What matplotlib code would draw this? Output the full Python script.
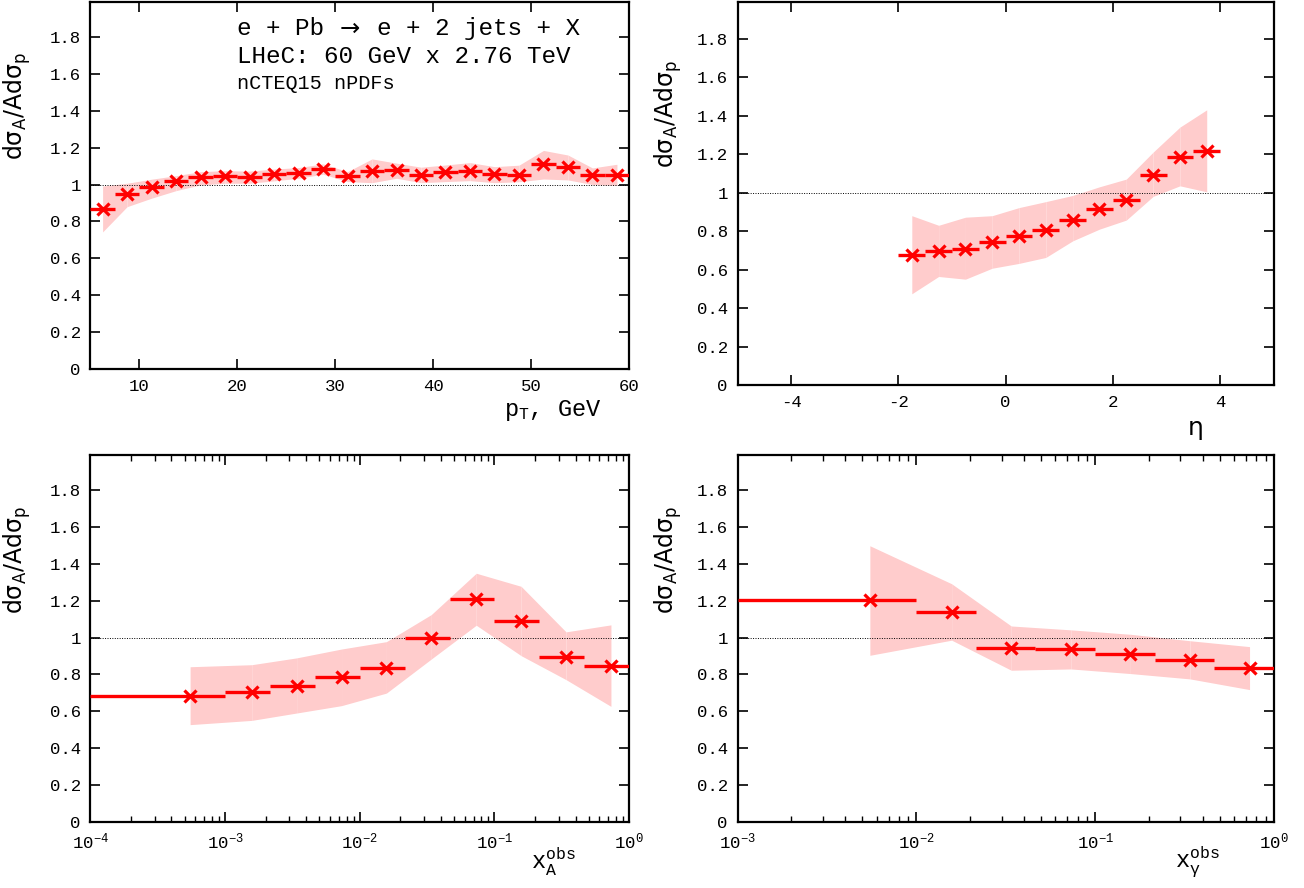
import numpy as np
import matplotlib
matplotlib.use("Agg")
import matplotlib.pyplot as plt
import matplotlib.ticker as ticker

plt.rcParams['font.family'] = ['Liberation Mono', 'DejaVu Sans Mono', 'DejaVu Sans']
plt.rcParams['mathtext.default'] = 'regular'
plt.rcParams['axes.unicode_minus'] = False

# ---- data ----
# pT panel (bins of 2.5 GeV, 5..60)
pt_edges = [5, 7.5, 10, 12.5, 15, 17.5, 20, 22.5, 25, 27.5, 30, 32.5, 35,
            37.5, 40, 42.5, 45, 47.5, 50, 52.5, 55, 57.5, 60]
pt_ratio = [0.866, 0.949, 0.986, 1.018, 1.040, 1.048, 1.040, 1.059, 1.065, 1.084, 1.047,
            1.075, 1.078, 1.052, 1.067, 1.072, 1.057, 1.052, 1.110, 1.096, 1.049, 1.054]
pt_upper = [0.992, 1.007, 1.029, 1.048, 1.070, 1.075, 1.073, 1.084, 1.092, 1.112, 1.070,
            1.139, 1.116, 1.094, 1.106, 1.119, 1.097, 1.105, 1.185, 1.160, 1.090, 1.110]
pt_lower = [0.743, 0.880, 0.926, 0.967, 0.998, 1.007, 1.007, 1.020, 1.034, 1.056, 1.016,
            1.010, 1.034, 1.010, 1.016, 1.021, 1.010, 1.015, 1.030, 1.025, 1.000, 0.995]

# eta panel
eta_edges = [-2, -1.5, -1, -0.5, 0, 0.5, 1, 1.5, 2, 2.5, 3, 3.5, 4]
eta_ratio = [0.678, 0.696, 0.709, 0.742, 0.775, 0.806, 0.860, 0.917, 0.962, 1.093, 1.187, 1.215]
eta_upper = [0.880, 0.830, 0.872, 0.880, 0.922, 0.953, 0.985, 1.030, 1.070, 1.210, 1.340, 1.430]
eta_lower = [0.474, 0.564, 0.550, 0.607, 0.632, 0.663, 0.749, 0.810, 0.857, 0.980, 1.035, 1.004]

# x_A panel
xa_edges = [1e-4, 1e-3, 2.154e-3, 4.642e-3, 1e-2, 2.154e-2, 4.642e-2, 0.1, 0.2154, 0.4642, 1.0]
xa_ratio = [0.685, 0.705, 0.739, 0.786, 0.837, 1.000, 1.207, 1.089, 0.895, 0.848]
xa_upper = [0.842, 0.853, 0.890, 0.938, 0.978, 1.125, 1.349, 1.278, 1.031, 1.069]
xa_lower = [0.528, 0.551, 0.591, 0.631, 0.699, 0.884, 1.067, 0.902, 0.772, 0.627]

# x_gamma panel
xg_edges = [1e-3, 1e-2, 2.154e-2, 4.642e-2, 0.1, 0.2154, 0.4642, 1.0]
xg_ratio = [1.204, 1.139, 0.942, 0.937, 0.911, 0.879, 0.833]
xg_upper = [1.498, 1.292, 1.063, 1.042, 1.018, 0.983, 0.951]
xg_lower = [0.904, 0.986, 0.823, 0.830, 0.805, 0.776, 0.718]

yticks = [0, 0.2, 0.4, 0.6, 0.8, 1, 1.2, 1.4, 1.6, 1.8]

RED = '#ff0000'
BAND = '#ffcccc'


def draw_panel(ax, edges, ratio, upper, lower, logx=False):
    edges = np.array(edges)
    lo, hi = edges[:-1], edges[1:]
    centers = (lo + hi) / 2
    # band drawn segment by segment (leaves faint seams like the original)
    for i in range(len(centers) - 1):
        ax.fill_between(centers[i:i + 2], lower[i:i + 2], upper[i:i + 2],
                        color=BAND, lw=0, zorder=1)
    ax.axhline(1.0, color='black', lw=0.7, ls=(0, (1, 1.5)), zorder=2)
    ax.hlines(ratio, lo, hi, colors=RED, lw=2.4, zorder=3)
    ax.plot(centers, ratio, 'x', color=RED, ms=9, mew=2.3, zorder=4)
    if logx:
        ax.set_xscale('log')
        ax.xaxis.set_major_locator(ticker.LogLocator(base=10))
        ax.xaxis.set_minor_locator(ticker.LogLocator(base=10, subs=np.arange(2, 10)))
        ax.xaxis.set_minor_formatter(ticker.NullFormatter())
    ax.set_xlim(edges[0], edges[-1])
    ax.set_ylim(0, 1.99)
    ax.set_yticks(yticks)
    ax.yaxis.set_major_formatter(ticker.FuncFormatter(lambda v, p: '%g' % v))
    ax.tick_params(which='major', direction='in', top=True, right=True,
                   length=7, width=1.2, labelsize=12.5, pad=7)
    ax.tick_params(which='minor', direction='in', top=True, right=False, left=False,
                   length=4, width=1.0)
    for s in ax.spines.values():
        s.set_linewidth(1.6)
    ax.set_ylabel('dσ$_A$/Adσ$_p$', fontsize=17, family=['DejaVu Sans'])


fig = plt.figure(figsize=(13.04, 8.88), dpi=100)
ax1 = fig.add_axes([0.0693, 0.5845, 0.4132, 0.4133])
ax2 = fig.add_axes([0.5656, 0.5664, 0.4112, 0.4313])
ax3 = fig.add_axes([0.0693, 0.0743, 0.4132, 0.4133])
ax4 = fig.add_axes([0.5656, 0.0743, 0.4112, 0.4133])

draw_panel(ax1, pt_edges, pt_ratio, pt_upper, pt_lower)
ax1.set_xticks([10, 20, 30, 40, 50, 60])
draw_panel(ax2, eta_edges, eta_ratio, eta_upper, eta_lower)
ax2.set_xlim(-5, 5)
ax2.set_xticks([-4, -2, 0, 2, 4])
draw_panel(ax3, xa_edges, xa_ratio, xa_upper, xa_lower, logx=True)
draw_panel(ax4, xg_edges, xg_ratio, xg_upper, xg_lower, logx=True)

ax1.yaxis.set_label_coords(-0.107, 0.717)
ax2.yaxis.set_label_coords(-0.099, 0.707)
ax3.yaxis.set_label_coords(-0.107, 0.714)
ax4.yaxis.set_label_coords(-0.099, 0.714)

# axis titles placed like the gnuplot original
ax1.text(0.859, -0.112, 'p$_T$, GeV', transform=ax1.transAxes, ha='center', va='center', fontsize=17)
ax2.text(0.855, -0.112, 'η', transform=ax2.transAxes, ha='center', va='center', fontsize=18,
         family=['DejaVu Sans'])
ax3.text(0.859, -0.109, 'x$_A^{obs}$', transform=ax3.transAxes, ha='center', va='center', fontsize=17)
ax4.text(0.857, -0.109, 'x$_γ^{obs}$', transform=ax4.transAxes, ha='center', va='center', fontsize=17)

# process labels (arrow in a font that has a full-width arrow)
ax1.text(0.272, 0.927, 'e + Pb', transform=ax1.transAxes, fontsize=17.5, va='center')
ax1.text(0.463, 0.927, '→', transform=ax1.transAxes, fontsize=17.5, va='center',
         family=['DejaVu Sans'])
ax1.text(0.532, 0.927, 'e + 2 jets + X', transform=ax1.transAxes, fontsize=17.5, va='center')
ax1.text(0.272, 0.852, 'LHeC: 60 GeV x 2.76 TeV', transform=ax1.transAxes, fontsize=17.5, va='center')
ax1.text(0.272, 0.778, 'nCTEQ15 nPDFs', transform=ax1.transAxes, fontsize=14.5, va='center')

plt.savefig('out.png', dpi=100)
